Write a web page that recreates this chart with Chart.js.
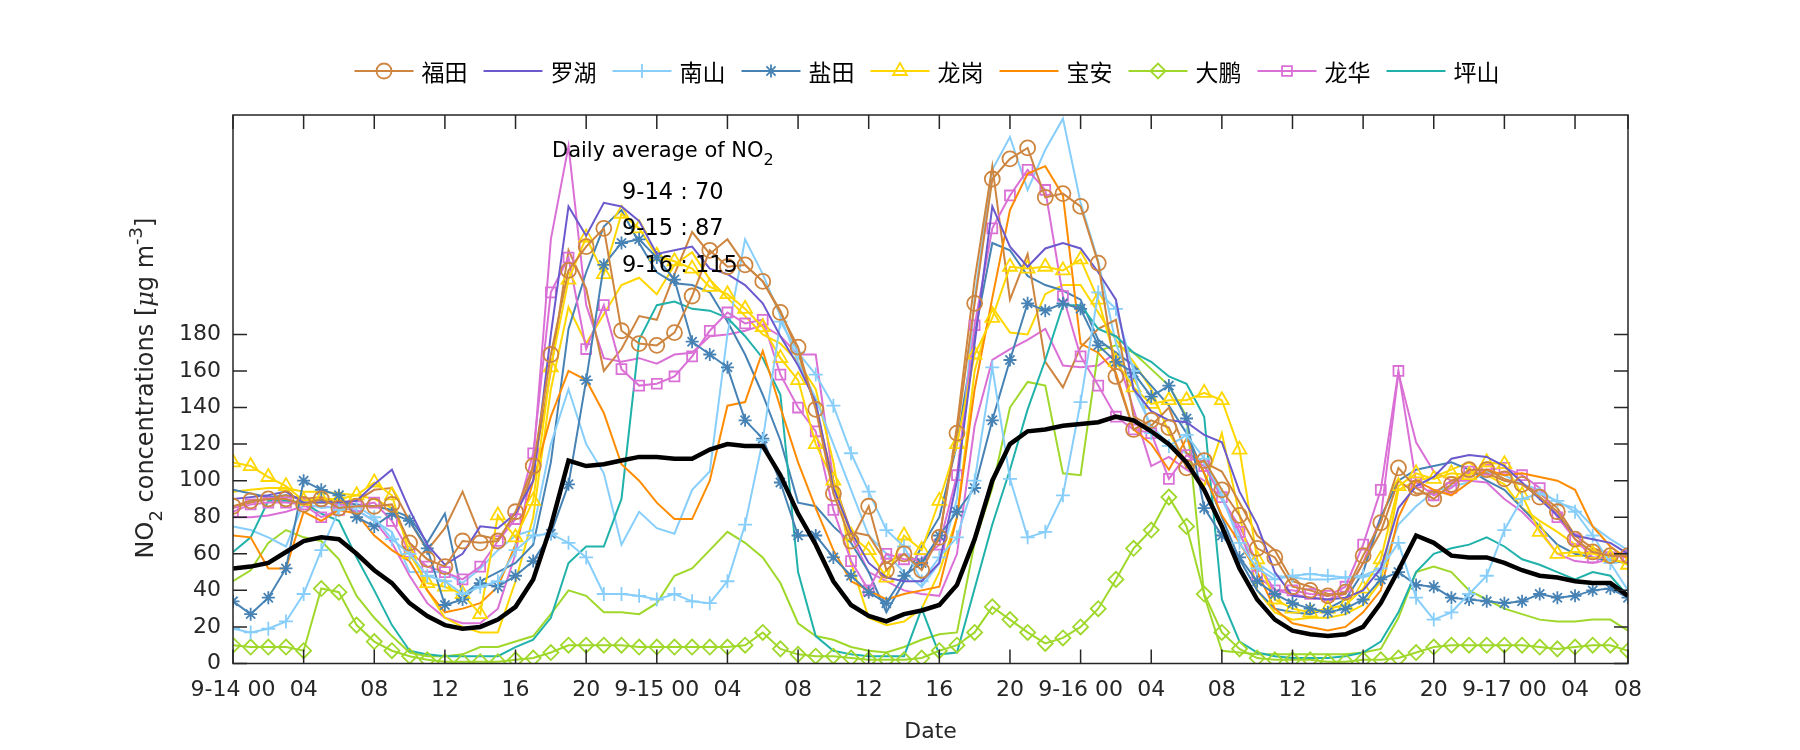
<!DOCTYPE html>
<html>
<head>
<meta charset="utf-8">
<script src="https://cdn.jsdelivr.net/npm/chart.js@4.4.0/dist/chart.umd.min.js"></script>
<style>
  html, body { margin: 0; padding: 0; background: #fff; }
  #wrap { width: 1800px; height: 750px; }
</style>
</head>
<body>
<div id="wrap"><canvas id="no2" width="1800" height="750"></canvas></div>
<script>
// Hourly NO2 (ug/m3) per district, 9-14 00:00 -> 9-17 07:00 (80 hours)
// second list per district = the other station of the same district (no marker)
const futian = [86,89,90,90,87,90,85,86,86,87, 66,57,53,67,66,67,83,108,169,215, 228,238,182,175,174,181,201,226,217,218, 209,192,173,139,93,67,86,51,60,51, 69,126,197,265,276,282,255,257,250,219, 157,128,133,129,107,111,95,81,63,58, 42,40,37,39,59,77,107,96,90,98, 106,106,101,98,91,83,68,61,59,59];
const futian2 = [85,88,90,92,90,91,88,89,95,96, 78,62,74,94,70,68,80,105,160,226, 205,160,172,190,188,213,236,224,232,218, 209,193,170,140,100,72,70,55,60,55, 68,130,210,272,199,224,165,151,173,183, 188,135,130,140,115,110,105,88,70,62, 45,42,38,38,55,72,100,93,93,100, 104,104,100,98,93,85,70,63,60,60];
const luohu = [90,91,92,94,88,88,88,89,98,106, 84,65,54,60,75,74,82,100,180,250, 234,252,250,242,224,226,228,216,213,207, 197,179,163,143,96,72,55,47,45,45, 55,100,175,250,228,217,227,230,227,214, 199,150,138,133,132,125,121,94,76,50, 37,36,35,36,40,52,85,97,102,112, 114,113,108,99,90,81,70,68,66,60];
const nanshan = [19,17,19,23,38,62,84,86,80,68, 60,48,45,38,42,45,62,70,71,66, 58,38,38,37,35,38,34,33,45,76, 122,187,170,158,141,115,94,73,64,45, 58,69,100,162,101,69,72,92,143,203, 194,160,126,119,125,112,92,66,52,46, 48,49,48,47,48,52,66,36,24,28, 38,48,73,90,93,89,83,70,55,40];
const nanshan2 = [75,73,69,64,88,85,86,84,78,72, 50,50,50,44,52,62,70,73,120,150, 120,104,65,83,74,71,95,105,180,232, 213,190,165,145,120,95,70,60,50,42, 55,90,200,270,288,259,281,298,252,220, 175,150,130,120,115,110,90,70,55,48, 47,46,46,47,47,50,76,86,94,97, 99,105,103,98,95,88,85,75,68,62];
const yantian = [34,27,36,52,100,95,92,80,75,82, 78,63,32,35,44,42,48,56,71,98, 155,218,230,232,222,210,176,169,162,133, 123,99,70,70,58,48,39,33,48,55, 70,83,96,133,166,197,193,197,194,174, 165,159,146,152,134,85,70,58,45,38, 33,30,28,30,35,46,50,43,42,36, 35,34,33,34,38,36,37,40,41,36];
const yantian2 = [95,93,91,92,90,89,88,87,86,84, 80,66,82,37,45,50,55,65,110,183, 214,239,248,230,214,208,207,203,187,169, 147,122,88,86,75,66,50,28,45,64, 80,120,180,230,226,212,207,204,199,177, 170,163,152,141,126,104,80,57,40,30, 28,27,30,35,50,80,100,106,108,110, 106,100,95,85,75,65,60,58,56,55];
const longgang = [110,108,102,97,89,90,90,92,99,92, 60,44,42,38,27,81,69,89,162,210, 233,213,246,238,223,220,216,206,202,194, 184,167,155,120,100,70,62,47,70,62, 89,120,169,189,217,216,217,215,221,199, 165,151,142,144,144,148,144,117,57,35, 30,28,30,32,41,57,97,104,101,104, 103,110,109,92,72,60,61,60,58,54];
const longgang2 = [94,95,96,96,94,94,93,92,90,85, 65,40,25,20,17,17,45,80,150,195, 175,191,207,211,202,218,225,210,200,190, 180,175,165,150,110,55,25,21,23,30, 50,80,160,195,181,180,202,207,207,192, 177,165,150,126,110,97,126,81,40,28, 24,25,25,27,32,45,95,100,102,106, 110,103,98,85,78,72,65,62,60,58];
const baoan = [70,69,52,52,83,78,84,82,70,62, 56,40,28,30,33,42,65,100,135,160, 155,137,109,100,88,79,79,100,141,143, 171,140,110,85,62,45,40,35,38,40, 42,80,150,200,248,268,272,256,175,170, 159,128,120,106,123,104,81,66,50,30, 22,20,18,20,28,40,80,100,95,92, 99,106,103,104,102,100,95,75,64,57];
const dapeng = [10,9,9,9,7,41,39,21,12,7, 4,2,1,1,1,1,2,3,6,10, 10,10,10,9,9,9,9,9,9,10, 17,8,5,4,4,3,2,2,2,3, 7,10,17,31,24,17,11,14,20,30, 46,63,73,91,75,38,17,8,3,2, 2,2,1,1,2,2,3,6,9,10, 10,10,10,10,9,8,9,10,10,7];
const dapeng2 = [45,51,66,73,69,67,57,37,25,15, 6,4,4,5,9,9,12,15,27,40, 37,28,28,27,33,48,52,62,72,66, 58,44,22,15,13,9,7,6,9,13, 16,17,66,96,140,154,152,104,103,171, 174,170,161,152,135,37,7,6,5,5, 5,5,5,5,6,8,25,50,53,50, 40,35,30,27,24,23,23,24,24,18];
const longhua = [83,87,88,88,87,80,84,86,88,78, 61,53,50,46,53,67,79,115,203,222, 172,196,161,152,153,157,168,182,192,186, 188,158,140,127,84,56,40,60,57,57, 65,103,185,238,256,270,259,201,168,152, 135,128,126,101,114,108,91,72,48,40, 40,38,37,42,65,95,160,99,92,96, 105,106,107,103,96,80,68,58,58,59];
const longhua2 = [80,80,81,83,86,86,85,84,78,66, 48,33,25,22,22,30,60,110,232,283, 196,167,165,167,164,169,170,179,180,182, 185,179,169,169,100,70,50,45,40,38, 37,60,130,166,172,177,183,163,162,163, 170,139,108,113,106,100,90,75,55,40, 38,36,35,38,55,80,159,121,105,100, 100,99,90,83,73,60,56,55,57,55];
const pingshan = [61,69,89,89,88,82,78,58,40,21, 7,5,4,4,4,4,9,13,25,55, 64,64,90,177,196,198,194,193,189,179, 167,147,50,15,7,5,4,4,4,30, 5,6,41,76,106,139,166,196,196,183, 179,170,165,157,153,135,35,12,6,4, 3,3,3,4,6,12,28,50,60,63, 65,69,64,57,54,50,46,50,48,37];
const average = [52,53,55,61,67,69,68,60,51,44, 33,26,21,19,20,24,31,46,75,111, 108,109,111,113,113,112,112,117,120,119, 119,103,82,65,45,32,26,23,27,29, 32,43,68,100,120,127,128,130,131,132, 135,133,127,120,110,95,75,52,35,24, 18,16,15,16,20,33,51,70,66,59, 58,58,55,51,48,47,45,44,44,37];

// axis ticks
const xTickHours = [0,4,8,12,16,20,24,28,32,36,40,44,48,52,56,60,64,68,72,76,79];
const xTickLabels = ['9-14 00','04','08','12','16','20','9-15 00','04','08','12','16','20','9-16 00','04','08','12','16','20','9-17 00','04','08'];
const yTicks = [0,20,40,60,80,100,120,140,160,180];

// daily means shown in the note
const dailyDays = ['9-14','9-15','9-16'];
const dailyMeans = [70,87,115];

const TXT = '#262626';
const hours = futian.map((_, i) => i);
const pts = arr => arr.map((v, i) => ({ x: hours[i], y: v }));

function mainSet(label, data, color, style, r) {
  return {
    label, data: pts(data), borderColor: color, backgroundColor: color,
    borderWidth: 2, pointStyle: style || false, pointRadius: style ? r : 0,
    pointBorderWidth: 1.8, pointBackgroundColor: 'rgba(0,0,0,0)', pointBorderColor: color,
    inLegend: true, order: 1
  };
}
function extraSet(label, data, color) {
  return {
    label, data: pts(data), borderColor: color, borderWidth: 2,
    pointRadius: 0, inLegend: false, order: 2
  };
}

const datasets = [
  { label: 'average', data: pts(average), borderColor: '#000', borderWidth: 4.5, pointRadius: 0, inLegend: false, order: 0 },
  mainSet('福田', futian, '#CD853F', 'circle', 7.5),
  mainSet('罗湖', luohu, '#6A5ACD', null, 0),
  mainSet('南山', nanshan, '#87CEFA', 'cross', 7),
  mainSet('盐田', yantian, '#4682B4', 'star', 6.5),
  mainSet('龙岗', longgang, '#FFD700', 'triangle', 8),
  mainSet('宝安', baoan, '#FF8C00', null, 0),
  mainSet('大鹏', dapeng, '#9FD82B', 'rectRot', 7.5),
  mainSet('龙华', longhua, '#DA70D6', 'rect', 7),
  mainSet('坪山', pingshan, '#20B2AA', null, 0),
  extraSet('福田 2', futian2, '#CD853F'),
  extraSet('南山 2', nanshan2, '#87CEFA'),
  extraSet('盐田 2', yantian2, '#4682B4'),
  extraSet('龙岗 2', longgang2, '#FFD700'),
  extraSet('大鹏 2', dapeng2, '#9FD82B'),
  extraSet('龙华 2', longhua2, '#DA70D6')
];

// draws text made of pieces with baseline shifts (sub/superscripts)
function richText(ctx, pieces, x, y, align) {
  let total = 0;
  pieces.forEach(p => { ctx.font = p.font; p.w = ctx.measureText(p.t).width; total += p.w; });
  let cx = align === 'center' ? x - total / 2 : x;
  ctx.textAlign = 'left';
  ctx.textBaseline = 'middle';
  pieces.forEach(p => {
    ctx.font = p.font;
    ctx.fillText(p.t, cx, y + (p.dy || 0));
    cx += p.w;
  });
}

const decor = {
  id: 'decor',
  afterDatasetsDraw(chart) {
    const { ctx, chartArea: a, scales: { x, y } } = chart;
    ctx.save();
    // box + inward ticks
    ctx.strokeStyle = TXT;
    ctx.lineWidth = 1.5;
    ctx.strokeRect(a.left, a.top, a.right - a.left, a.bottom - a.top);
    ctx.beginPath();
    xTickHours.forEach(h => {
      const px = x.getPixelForValue(h);
      ctx.moveTo(px, a.bottom); ctx.lineTo(px, a.bottom - 14);
      ctx.moveTo(px, a.top); ctx.lineTo(px, a.top + 14);
    });
    yTicks.forEach(v => {
      const py = y.getPixelForValue(v);
      ctx.moveTo(a.left, py); ctx.lineTo(a.left + 14, py);
      ctx.moveTo(a.right, py); ctx.lineTo(a.right - 14, py);
    });
    ctx.stroke();

    // note with daily averages
    ctx.fillStyle = '#000';
    richText(ctx, [{ t: 'Daily average of NO', font: '21px "DejaVu Sans"' }, { t: '2', font: '16px "DejaVu Sans"', dy: 9 }], 552, 152);
    dailyDays.forEach((d, i) => {
      richText(ctx, [{ t: d + ' : ' + dailyMeans[i], font: '22.5px "DejaVu Sans"' }], 622, 193 + i * 36.5);
    });

    // y axis title
    ctx.fillStyle = TXT;
    ctx.translate(147, 388);
    ctx.rotate(-Math.PI / 2);
    const f = '24px "DejaVu Sans"', fs = '18px "DejaVu Sans"', fi = 'italic 24px "DejaVu Serif"';
    richText(ctx, [
      { t: 'NO', font: f }, { t: '2', font: fs, dy: 10 },
      { t: ' concentrations [', font: f }, { t: 'μ', font: fi }, { t: 'g m', font: f },
      { t: '-3', font: fs, dy: -10 }, { t: ']', font: f }
    ], 0, 0, 'center');
    ctx.restore();

    // legend: line sample with marker, then name
    ctx.save();
    const lx0 = 354.5, pitch = 129, ly = 71;
    chart.data.datasets.filter(d => d.inLegend).forEach((d, i) => {
      const lx = lx0 + i * pitch;
      ctx.strokeStyle = d.borderColor;
      ctx.lineWidth = 2;
      ctx.beginPath(); ctx.moveTo(lx, ly); ctx.lineTo(lx + 59, ly); ctx.stroke();
      if (d.pointStyle) {
        ctx.fillStyle = 'rgba(0,0,0,0)';
        ctx.lineWidth = 1.8;
        Chart.helpers.drawPoint(ctx, { pointStyle: d.pointStyle, radius: d.pointRadius, borderWidth: 1.8, rotation: 0 }, lx + 29.5, ly);
      }
      ctx.fillStyle = '#000';
      ctx.font = '23px "Noto Sans CJK SC"';
      ctx.textAlign = 'left';
      ctx.textBaseline = 'middle';
      ctx.fillText(d.label, lx + 67, ly + 1);
    });
    ctx.restore();
  }
};

new Chart(document.getElementById('no2'), {
  type: 'line',
  data: { datasets },
  plugins: [decor],
  options: {
    responsive: false,
    animation: false,
    devicePixelRatio: 1,
    layout: { padding: { top: 115, right: 172, left: 0, bottom: 0 } },
    elements: { line: { tension: 0 } },
    plugins: { legend: { display: false }, tooltip: { enabled: false } },
    scales: {
      x: {
        type: 'linear', min: 0, max: 79,
        grid: { display: false, drawTicks: false }, border: { display: false },
        afterBuildTicks: s => { s.ticks = xTickHours.map(v => ({ value: v })); },
        afterFit: s => { s.height = 86.5; },
        ticks: {
          autoSkip: false, maxRotation: 0, padding: 14, color: TXT,
          font: { family: 'DejaVu Sans', size: 22 },
          callback: (v, i) => xTickLabels[i]
        },
        title: { display: true, text: 'Date', color: TXT, font: { family: 'DejaVu Sans', size: 22 }, padding: { top: 0, bottom: 5 } }
      },
      y: {
        min: 0, max: 300,
        grid: { display: false, drawTicks: false }, border: { display: false },
        afterBuildTicks: s => { s.ticks = yTicks.map(v => ({ value: v })); },
        afterFit: s => { s.width = 233; },
        ticks: { padding: 12, color: TXT, font: { family: 'DejaVu Sans', size: 22 } }
      }
    }
  }
});
</script>
</body>
</html>
